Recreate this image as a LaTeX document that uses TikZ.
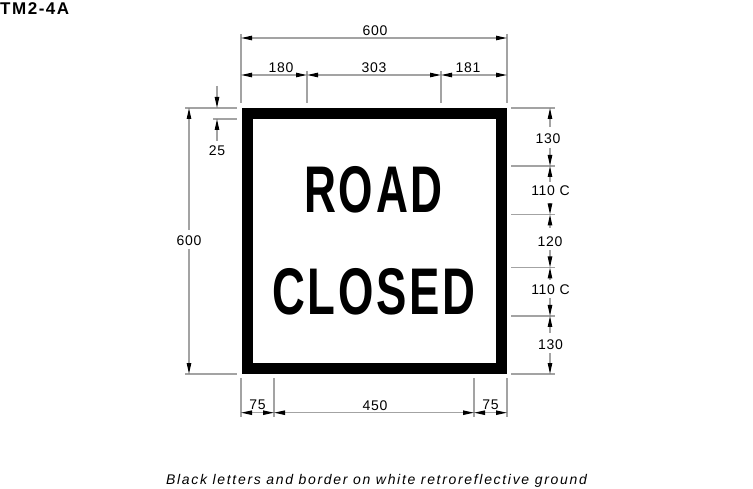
\documentclass[tikz,border=0pt]{standalone}
\usepackage{fontspec}
\usetikzlibrary{arrows.meta}
\setmainfont{Liberation Sans}
\newfontfamily\dimfont[LetterSpace=5]{Liberation Sans}
\newfontfamily\capfont[LetterSpace=12,ItalicFont={Liberation Sans Italic}]{Liberation Sans}
\newfontfamily\signfont[LetterSpace=6,BoldFont={Liberation Sans Bold}]{Liberation Sans}
\newfontfamily\titlefont[LetterSpace=9,BoldFont={Liberation Sans Bold}]{Liberation Sans}
\tikzset{
  x=1pt,y=-1pt,
  ext/.style={draw=extgray,line width=1.1pt},
  dimline/.style={draw=extgray,line width=1.1pt},
  tip/.style={-{Stealth[length=11pt,width=4.4pt,inset=0pt,color=black]}},
  dimtext/.style={font=\dimfont\fontsize{14}{16}\selectfont,inner sep=0pt,text=black,yshift=-0.7pt},
}
\definecolor{extgray}{HTML}{A3A3A3}
\begin{document}
\begin{tikzpicture}
\useasboundingbox (0,0) rectangle (753,489);
\fill[white] (0,0) rectangle (753,489);
% sign
\draw[black,line width=11pt] (247,113.5) rectangle (501.5,368.5);
\node[inner sep=0pt] (road) at (373.5,190) {\scalebox{0.67}[1]{\signfont\bfseries\fontsize{66}{70}\selectfont ROAD}};
\node[inner sep=0pt] (closed) at (374,291.5) {\scalebox{0.69}[1]{\signfont\bfseries\fontsize{66}{70}\selectfont CLOSED}};
\node[anchor=west,inner sep=0pt] (title) at (0,8.3) {\titlefont\bfseries\fontsize{17}{19}\selectfont TM2-4A};
\node[inner sep=0pt] (caption) at (376.5,480.5) {\capfont\itshape\fontsize{14}{16}\selectfont Black letters and border on white retroreflective ground};
% extension lines
\foreach \a/\b/\c/\d in {241/34/241/103, 507/34/507/103, 307/71/307/103, 441/71/441/103,
  185/108/237/108, 213/119/237/119, 185/374/237/374,
  511/108/555/108, 511/166/555/166, 511/214.5/555/214.5, 511/267.5/555/267.5, 511/316/555/316, 511/374/555/374,
  241/378/241/417, 274/378/274/417, 474/378/474/417, 507/378/507/417}
  \draw[ext] (\a,\b) -- (\c,\d);
% top
\node[dimtext] (d600t) at (375,30) {600};
\draw[dimline,tip] (374,38) -- (241,38);
\draw[dimline,tip] (374,38) -- (507,38);
\node[dimtext] (d180) at (281,67) {180};
\draw[dimline,tip] (274,75) -- (241,75);
\draw[dimline,tip] (274,75) -- (307,75);
\node[dimtext] (d303) at (374,67) {303};
\draw[dimline,tip] (374,75) -- (307,75);
\draw[dimline,tip] (374,75) -- (441,75);
\node[dimtext] (d181) at (468,67) {181};
\draw[dimline,tip] (474,75) -- (441,75);
\draw[dimline,tip] (474,75) -- (507,75);
% bottom
\node[dimtext] (d75a) at (257.5,404.5) {75};
\draw[dimline,tip] (257.5,412.7) -- (241,412.7);
\draw[dimline,tip] (257.5,412.7) -- (274,412.7);
\node[dimtext] (d450) at (375,404.5) {450};
\draw[dimline,tip] (374,412.7) -- (274,412.7);
\draw[dimline,tip] (374,412.7) -- (474,412.7);
\node[dimtext] (d75b) at (490.5,404.5) {75};
\draw[dimline,tip] (490.5,412.7) -- (474,412.7);
\draw[dimline,tip] (490.5,412.7) -- (507,412.7);
% left
\node[dimtext] (d600l) at (189,239.5) {600};
\draw[dimline,tip] (189,230) -- (189,108);
\draw[dimline,tip] (189,249) -- (189,374);
\node[dimtext] (d25) at (217,150) {25};
\draw[dimline,tip] (217,86) -- (217,108);
\draw[dimline,tip] (217,141) -- (217,119);
% right
\node[dimtext] (r1) at (548,138) {130};
\draw[dimline,tip] (550,127) -- (550,108);
\draw[dimline,tip] (550,148) -- (550,166);
\node[dimtext] (r2) at (550.5,190) {110 C};
\draw[dimline,tip] (550,182) -- (550,166);
\draw[dimline,tip] (550,203) -- (550,214.5);
\node[dimtext] (r3) at (550,241) {120};
\draw[dimline,tip] (550,228) -- (550,214.5);
\draw[dimline,tip] (550,250) -- (550,267.5);
\node[dimtext] (r4) at (550.5,289) {110 C};
\draw[dimline,tip] (550,280) -- (550,267.5);
\draw[dimline,tip] (550,298) -- (550,316);
\node[dimtext] (r5) at (550.5,344) {130};
\draw[dimline,tip] (550,333) -- (550,316);
\draw[dimline,tip] (550,353) -- (550,374);
\end{tikzpicture}
\end{document}
